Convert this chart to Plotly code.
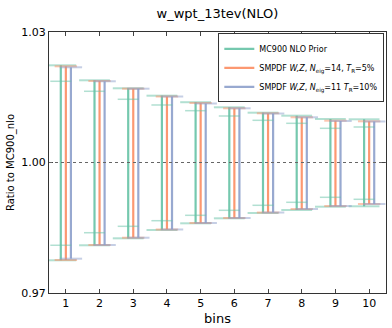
import plotly.graph_objects as go

# Bins und Werte
bins = [1, 2, 3, 4, 5, 6, 7, 8, 9, 10]

# MC900 NLO Prior (aeussere und innere Grenzen)
prior_low = [0.97752, 0.98097, 0.98257, 0.98448, 0.98602, 0.98717, 0.98839, 0.98908, 0.98984, 0.98993]
prior_high = [1.02234, 1.01890, 1.01706, 1.01536, 1.01386, 1.01269, 1.01145, 1.01076, 1.01000, 1.00993]
prior_in_low = [0.98097, 0.98386, 0.98533, 0.98662, 0.98786, 0.98901, 0.99016, 0.99085, 0.99200, 0.99154]
prior_in_high = [1.01867, 1.01637, 1.01453, 1.01322, 1.01191, 1.01069, 1.00970, 1.00901, 1.00786, 1.00816]

# SMPDF Neig=14, TR=5%
sm14_low = [0.97759, 0.98103, 0.98271, 0.98460, 0.98609, 0.98724, 0.98850, 0.98931, 0.98999, 0.99046]
sm14_high = [1.02211, 1.01874, 1.01697, 1.01517, 1.01368, 1.01246, 1.01131, 1.01039, 1.00961, 1.00947]

# SMPDF Neig=11, TR=10%
sm11_low = [0.97789, 0.98103, 0.98271, 0.98460, 0.98609, 0.98724, 0.98850, 0.98931, 0.98999, 0.99046]
sm11_high = [1.02189, 1.01867, 1.01697, 1.01517, 1.01356, 1.01246, 1.01126, 1.01039, 1.00954, 1.00943]

names = [
    "MC900 NLO Prior",
    "SMPDF <i>W,Z</i>, <i>N</i><sub>eig</sub>=14, <i>T</i><sub>R</sub>=5%",
    "SMPDF <i>W,Z</i>, <i>N</i><sub>eig</sub>=11 <i>T</i><sub>R</sub>=10%",
]
rgb = ["102,194,165", "252,141,98", "141,160,203"]
offsets = [-0.15, 0.0, 0.15]
capw = [22, 16, 16]

fig = go.Figure()

for lo, hi, c, off, cw in zip([prior_low, sm14_low, sm11_low],
                              [prior_high, sm14_high, sm11_high],
                              rgb, offsets, capw):
    xs = [b + off for b in bins]
    mid = [(a + b) / 2 for a, b in zip(lo, hi)]
    err = [(b - a) / 2 for a, b in zip(lo, hi)]
    # senkrechte Balken
    fig.add_trace(go.Scatter(
        x=xs, y=mid, mode="markers",
        marker=dict(size=1, color="rgba(0,0,0,0)"),
        error_y=dict(type="data", array=err, visible=True, color=f"rgba({c},0.9)",
                     thickness=2.2, width=0),
        showlegend=False, hoverinfo="skip"))
    # Kappen (heller)
    fig.add_trace(go.Scatter(
        x=xs + xs, y=lo + hi, mode="markers",
        marker=dict(symbol="line-ew", size=cw, line=dict(color=f"rgba({c},0.5)", width=2)),
        showlegend=False, hoverinfo="skip"))

# innere Kappen fuer den Prior
xin = [b + offsets[0] for b in bins]
fig.add_trace(go.Scatter(
    x=xin + xin, y=prior_in_low + prior_in_high, mode="markers",
    marker=dict(symbol="line-ew", size=15, line=dict(color="rgba(102,194,165,0.5)", width=1.5)),
    showlegend=False, hoverinfo="skip"))

# Legendeneintraege
for nm, c in zip(names, rgb):
    fig.add_trace(go.Scatter(x=[None], y=[None], mode="lines", name=nm,
                             line=dict(color=f"rgba({c},0.9)", width=2.2)))

fig.add_hline(y=1.0, line=dict(color="#666666", width=1, dash="dot"))

fig.update_layout(
    width=392, height=328,
    margin=dict(l=49, r=6, t=32, b=35),
    paper_bgcolor="white", plot_bgcolor="white",
    font=dict(family="DejaVu Sans", size=11, color="black"),
    title=dict(text="w_wpt_13tev(NLO)", x=0.5, xref="paper", xanchor="center",
               y=0.96, yanchor="middle", font=dict(size=13)),
    legend=dict(x=0.995, y=0.995, xanchor="right", yanchor="top",
                bgcolor="white", bordercolor="#333333", borderwidth=1,
                font=dict(size=8), tracegroupgap=0, itemwidth=30),
    showlegend=True,
)
fig.update_xaxes(range=[0.5, 10.5], tickvals=bins, ticks="inside", ticklen=4,
                 showline=True, linecolor="#333333", linewidth=1, mirror="ticks",
                 showgrid=False, zeroline=False, title=dict(text="bins", standoff=4),
                 tickfont=dict(size=11))
fig.update_yaxes(range=[0.97, 1.03], tickvals=[0.97, 1.00, 1.03], tickformat=".2f",
                 ticks="inside", ticklen=4, showline=True, linecolor="#333333", linewidth=1,
                 mirror="ticks", showgrid=False, zeroline=False,
                 title=dict(text="Ratio to MC900_nlo", standoff=4, font=dict(size=10)),
                 tickfont=dict(size=11))

fig.write_html("out.html", config={"displayModeBar": False},
               post_script="document.body.style.margin='0px';")
